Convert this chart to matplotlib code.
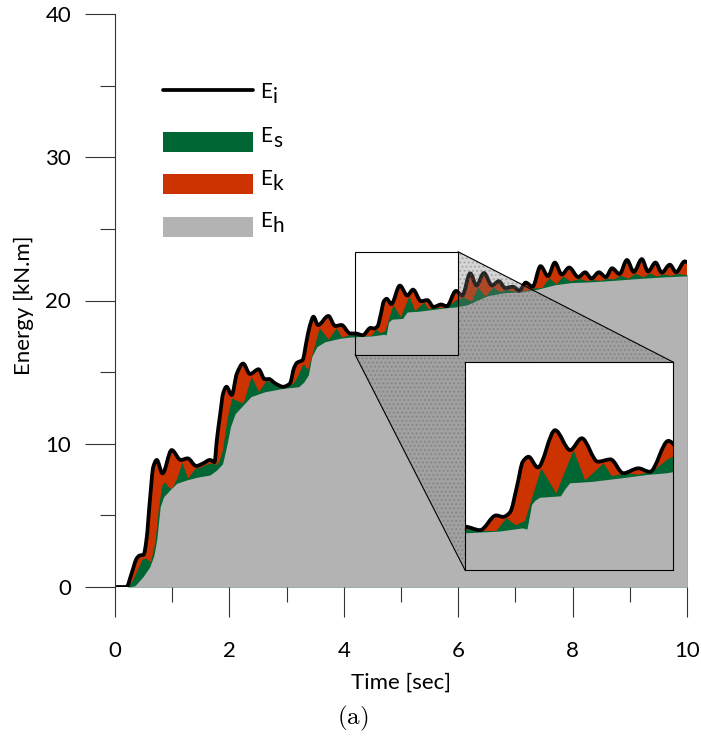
import numpy as np
import matplotlib
matplotlib.use("Agg")
import matplotlib.pyplot as plt
from matplotlib.path import Path
from matplotlib.patches import PathPatch, Rectangle, Polygon
from matplotlib.lines import Line2D

plt.rcParams["font.family"] = ["Lato", "DejaVu Sans"]
plt.rcParams["mathtext.fontset"] = "cm"

# ---- energy time histories [kN.m] ----
# input energy Ei (black line)
t_input = [0.00, 0.20, 0.29, 0.38, 0.43, 0.50, 0.55, 0.61, 0.67, 0.73, 0.83, 0.99,
           1.15, 1.27, 1.42, 1.54, 1.66, 1.74, 1.78, 1.84, 1.89, 1.95, 2.04, 2.13,
           2.24, 2.36, 2.51, 2.62, 2.69, 2.80, 2.94, 3.06, 3.13, 3.18, 3.28, 3.35,
           3.41, 3.47, 3.55, 3.73, 3.85, 3.96, 4.11, 4.20, 4.33, 4.47, 4.53, 4.59,
           4.65, 4.70, 4.75, 4.83, 4.98, 5.11, 5.21, 5.35, 5.46, 5.57, 5.70, 5.80,
           5.96, 6.07, 6.21, 6.32, 6.45, 6.59, 6.71, 6.82, 6.96, 7.07, 7.18, 7.30,
           7.44, 7.57, 7.69, 7.81, 7.94, 8.10, 8.22, 8.33, 8.46, 8.58, 8.69, 8.82,
           8.95, 9.07, 9.21, 9.32, 9.45, 9.56, 9.70, 9.81, 9.96, 10.00]
e_input = [0.00, 0.00, 0.95, 2.00, 2.20, 2.25, 3.30, 6.07, 8.40, 8.87, 7.93, 9.56,
           8.87, 8.98, 8.45, 8.63, 8.87, 8.72, 10.26, 12.10, 13.52, 13.98, 13.40, 14.90,
           15.60, 14.87, 15.20, 14.50, 14.52, 14.22, 13.98, 14.22, 15.30, 15.65, 15.85, 17.20,
           18.29, 18.87, 18.29, 18.92, 18.22, 18.29, 17.70, 17.70, 17.58, 18.09, 18.04, 18.20,
           19.10, 19.95, 20.12, 19.75, 21.04, 20.35, 20.76, 19.95, 20.03, 19.55, 19.72, 19.60,
           20.67, 20.35, 21.90, 21.05, 21.92, 21.05, 21.35, 20.88, 20.96, 20.68, 21.25, 20.96,
           22.40, 21.70, 22.65, 21.82, 22.30, 21.64, 21.97, 21.54, 21.97, 21.64, 22.25, 21.85,
           22.83, 22.00, 22.89, 22.03, 22.65, 21.95, 22.50, 21.98, 22.73, 22.68]

# hysteretic energy Eh (grey area)
t_hyst = [0.00, 0.25, 0.35, 0.49, 0.61, 0.68, 0.73, 0.79, 0.85, 0.96, 1.08, 1.25,
          1.43, 1.66, 1.78, 1.88, 1.95, 2.02, 2.10, 2.24, 2.38, 2.62, 2.94, 3.21,
          3.30, 3.38, 3.44, 3.53, 3.67, 3.93, 4.11, 4.50, 4.70, 4.74, 4.76, 4.78,
          4.81, 4.85, 5.03, 5.07, 5.11, 5.30, 5.55, 5.78, 5.95, 6.15, 6.38, 6.53,
          6.82, 7.11, 7.40, 7.69, 7.98, 8.30, 8.70, 9.20, 9.60, 10.00]
e_hyst = [0.00, 0.00, 0.10, 0.72, 1.42, 2.20, 3.30, 5.60, 6.30, 6.77, 7.24, 7.47,
          7.66, 7.82, 8.17, 8.60, 9.80, 11.20, 12.10, 12.70, 13.30, 13.63, 13.87, 13.98,
          14.30, 14.80, 16.08, 16.78, 17.12, 17.36, 17.45, 17.53, 17.64, 17.60, 18.00, 18.45,
          18.60, 18.70, 18.75, 19.00, 19.20, 19.25, 19.37, 19.49, 19.55, 19.69, 20.10, 20.35,
          20.55, 20.60, 20.80, 21.10, 21.25, 21.30, 21.40, 21.55, 21.65, 21.72]

# top of the strain-energy band, Eh + Es (green area)
t_strain = [0.00, 0.22, 0.30, 0.40, 0.48, 0.55, 0.62, 0.70, 0.76, 0.82, 0.87, 0.93,
            0.99, 1.08, 1.17, 1.27, 1.40, 1.48, 1.58, 1.68, 1.76, 1.82, 1.88, 1.96,
            2.04, 2.14, 2.24, 2.38, 2.51, 2.64, 2.75, 2.86, 2.96, 3.06, 3.12, 3.20,
            3.29, 3.37, 3.47, 3.57, 3.73, 3.87, 3.96, 4.08, 4.20, 4.33, 4.47, 4.56,
            4.64, 4.72, 4.86, 4.99, 5.14, 5.24, 5.40, 5.47, 5.60, 5.70, 5.82, 5.96,
            6.09, 6.23, 6.34, 6.47, 6.61, 6.73, 6.84, 6.98, 7.09, 7.20, 7.32, 7.46,
            7.59, 7.71, 7.83, 7.96, 8.12, 8.24, 8.35, 8.48, 8.60, 8.71, 8.84, 8.97,
            9.09, 9.23, 9.34, 9.47, 9.58, 9.72, 9.83, 9.97, 10.00]
e_strain_top = [0.00, 0.00, 0.45, 1.30, 2.00, 2.00, 1.75, 3.20, 5.60, 7.10, 7.35, 7.00,
                6.85, 7.60, 8.70, 7.60, 8.30, 8.35, 8.55, 8.65, 8.55, 8.80, 9.60, 11.80,
                13.20, 13.00, 12.85, 14.70, 13.65, 14.40, 14.30, 14.05, 13.95, 14.10, 14.25, 14.80,
                15.60, 15.20, 16.60, 18.10, 17.30, 18.10, 17.45, 17.60, 17.62, 17.55, 17.55, 17.99,
                17.75, 17.90, 19.72, 18.85, 20.35, 19.30, 19.89, 19.45, 19.55, 19.50, 19.60, 20.05,
                20.25, 19.95, 20.95, 20.30, 20.95, 20.60, 20.80, 20.65, 20.63, 20.70, 20.88, 20.90,
                21.60, 21.15, 21.72, 21.35, 21.55, 21.38, 21.46, 21.40, 21.56, 21.50, 21.76, 21.55,
                21.90, 21.65, 21.93, 21.70, 21.86, 21.75, 21.90, 21.80, 21.82]

x_ticks = [0, 2, 4, 6, 8, 10]
y_ticks = [0, 10, 20, 30, 40]
zoom_box = (4.2, 6.0, 16.2, 23.4)

C_INPUT = "black"
C_STRAIN = "#006633"
C_KINETIC = "#cc3300"
C_HYST = "#b3b3b3"

W, H = 701, 742


def smooth_curve(x, y):
    """Monotone cubic (Fritsch-Carlson) Bezier path through the points."""
    x = np.asarray(x, float)
    y = np.asarray(y, float)
    h = np.diff(x)
    d = np.diff(y) / h
    m = np.zeros_like(y)
    m[0], m[-1] = d[0], d[-1]
    for k in range(1, len(x) - 1):
        if d[k - 1] * d[k] <= 0:
            m[k] = 0.0
        else:
            w1 = 2 * h[k] + h[k - 1]
            w2 = h[k] + 2 * h[k - 1]
            m[k] = (w1 + w2) / (w1 / d[k - 1] + w2 / d[k])
    verts = [(x[0], y[0])]
    codes = [Path.MOVETO]
    for k in range(len(h)):
        verts += [(x[k] + h[k] / 3, y[k] + m[k] * h[k] / 3),
                  (x[k + 1] - h[k] / 3, y[k + 1] - m[k + 1] * h[k] / 3),
                  (x[k + 1], y[k + 1])]
        codes += [Path.CURVE4] * 3
    return verts, codes


def smooth_area(x, y, color):
    verts, codes = smooth_curve(x, y)
    verts = verts + [(x[-1], 0.0), (x[0], 0.0), (x[0], y[0])]
    codes = codes + [Path.LINETO, Path.LINETO, Path.CLOSEPOLY]
    return PathPatch(Path(verts, codes), facecolor=color, edgecolor="none", lw=0)


def smooth_line(x, y, color, lw):
    verts, codes = smooth_curve(x, y)
    return PathPatch(Path(verts, codes), facecolor="none", edgecolor=color, lw=lw,
                     capstyle="round", joinstyle="round")


def draw_energies(ax, lw):
    # stacked bands painted from the top down: kinetic, strain, hysteretic
    ax.add_patch(smooth_area(t_input, e_input, C_KINETIC))
    ax.fill_between(t_strain, 0, e_strain_top, color=C_STRAIN, lw=0)
    ax.fill_between(t_hyst, 0, e_hyst, color=C_HYST, lw=0)
    ax.add_patch(smooth_line(t_input, e_input, C_INPUT, lw))


def fx(px):
    return px / W


def fy(py):
    return 1 - py / H


fig = plt.figure(figsize=(W / 100, H / 100), dpi=100)
ax = fig.add_axes([fx(115), fy(587), fx(687) - fx(115), fy(14) - fy(587)])
draw_energies(ax, 2.7)
ax.set_xlim(0, 10)
ax.set_ylim(0, 40)

for s in ("top", "right", "bottom"):
    ax.spines[s].set_visible(False)
ax.spines["left"].set_color("#333333")
ax.spines["left"].set_linewidth(0.8)
ax.set_xticks(x_ticks)
ax.set_xticks([1, 3, 5, 7, 9], minor=True)
ax.set_yticks(y_ticks)
ax.set_yticks([5, 15, 25, 35], minor=True)
ax.tick_params(which="major", length=21.6, width=0.8, color="#333333",
               direction="out", labelsize=16)
ax.tick_params(which="minor", length=10.8, width=0.8, color="#333333", direction="out")
ax.tick_params(axis="y", which="major", pad=10)
ax.tick_params(axis="x", which="major", pad=17)

fig.text(fx(401), fy(683), "Time [sec]", ha="center", va="center", fontsize=16)
fig.text(fx(24), fy(305), "Energy [kN.m]", ha="center", va="center",
         rotation=90, fontsize=16)
fig.text(fx(353), fy(718), r"$\mathrm{(a)}$", ha="center", va="center", fontsize=18)

# zoom window and its projection onto the inset
x0, x1, y0, y1 = zoom_box
ax.add_patch(Rectangle((x0, y0), x1 - x0, y1 - y0, fill=False, ec="black",
                       lw=0.8, zorder=6))
inset_px = (465, 673, 362, 570)  # left, right, top, bottom
to_data = ax.transData.inverted()


def px_to_data(px, py):
    return to_data.transform(fig.transFigure.transform((fx(px), fy(py))))


itr = px_to_data(inset_px[1], inset_px[2])
itl = px_to_data(inset_px[0], inset_px[2])
ibl = px_to_data(inset_px[0], inset_px[3])
shade = Polygon([(x1, y1), itr, itl, ibl, (x0, y0), (x1, y0)], closed=True,
                facecolor="#7a7a7a", alpha=0.3, edgecolor="#555555", lw=0,
                hatch="....", zorder=5)
ax.add_patch(shade)
ax.add_line(Line2D([x1, itr[0]], [y1, itr[1]], color="black", lw=0.8, zorder=6))
ax.add_line(Line2D([x0, ibl[0]], [y0, ibl[1]], color="black", lw=0.8, zorder=6))

axin = fig.add_axes([fx(inset_px[0]), fy(inset_px[3]),
                     fx(inset_px[1]) - fx(inset_px[0]), fy(inset_px[2]) - fy(inset_px[3])])
draw_energies(axin, 2.7)
axin.set_xlim(x0, x1)
axin.set_ylim(y0, y1)
axin.set_xticks([])
axin.set_yticks([])
for s in axin.spines.values():
    s.set_linewidth(0.8)
    s.set_color("black")

# legend
leg_x0, leg_x1 = 163, 253
fig.add_artist(Line2D([fx(leg_x0), fx(leg_x1)], [fy(90), fy(90)], color=C_INPUT,
                      lw=2.7, solid_capstyle="round"))
for top, color in ((132, C_STRAIN), (174, C_KINETIC), (217, C_HYST)):
    fig.add_artist(Rectangle((fx(leg_x0), fy(top + 20)), fx(leg_x1) - fx(leg_x0),
                             fy(top) - fy(top + 20), facecolor=color, edgecolor="none"))
for base, sub in ((98, "i"), (142, "s"), (185, "k"), (227, "h")):
    fig.text(fx(260), fy(base), "E", fontsize=15, va="baseline", ha="left")
    fig.text(fx(273), fy(base + 5), sub, fontsize=15, va="baseline", ha="left")

fig.savefig("out.png", dpi=100)
